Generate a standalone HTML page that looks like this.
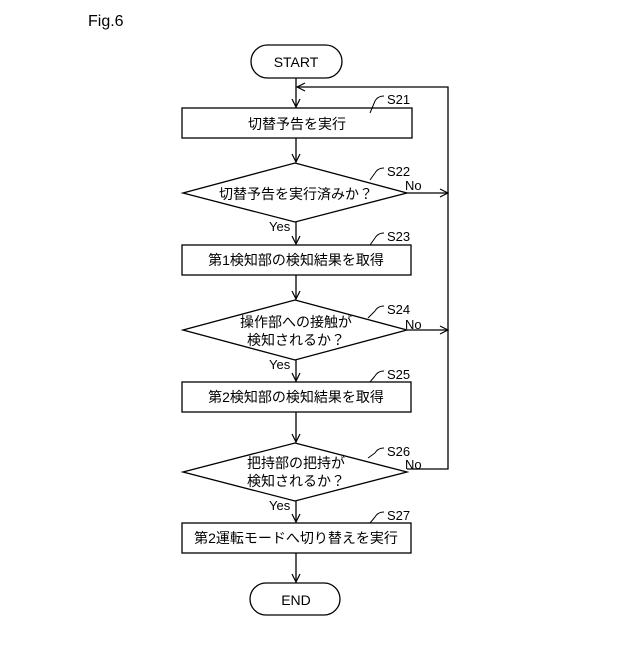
<!DOCTYPE html>
<html><head><meta charset="utf-8"><style>body{margin:0;background:#fff}</style></head><body>
<svg width="640" height="640" xmlns="http://www.w3.org/2000/svg" font-family="Liberation Sans, Noto Sans CJK JP, sans-serif" fill="none" stroke="#000" stroke-width="1.3">
<defs><marker id="a" markerWidth="10" markerHeight="10" refX="9" refY="5" orient="auto" markerUnits="userSpaceOnUse"><path d="M1,1 L9,5 L1,9" fill="none" stroke="#000" stroke-width="1.2"/></marker></defs>
<g fill="#000" stroke="none" font-size="13">
<text x="88" y="26" font-size="16">Fig.6</text>
<text x="296" y="67" text-anchor="middle" font-size="14">START</text>
<text x="296" y="605" text-anchor="middle" font-size="14">END</text>
<text x="297" y="129" text-anchor="middle" font-size="14">切替予告を実行</text>
<text x="296" y="199" text-anchor="middle" font-size="14">切替予告を実行済みか？</text>
<text x="296" y="265" text-anchor="middle" font-size="14">第1検知部の検知結果を取得</text>
<text x="296" y="327" text-anchor="middle" font-size="14">操作部への接触が</text>
<text x="296" y="345" text-anchor="middle" font-size="14">検知されるか？</text>
<text x="296" y="402" text-anchor="middle" font-size="14">第2検知部の検知結果を取得</text>
<text x="296" y="468" text-anchor="middle" font-size="14">把持部の把持が</text>
<text x="296" y="486" text-anchor="middle" font-size="14">検知されるか？</text>
<text x="296" y="543" text-anchor="middle" font-size="14">第2運転モードへ切り替えを実行</text>
<text x="387" y="104">S21</text><text x="387" y="176">S22</text><text x="387" y="241">S23</text>
<text x="387" y="314">S24</text><text x="387" y="379">S25</text><text x="387" y="456">S26</text><text x="387" y="520">S27</text>
<text x="405" y="190">No</text><text x="405" y="329">No</text><text x="405" y="469">No</text>
<text x="269" y="231">Yes</text><text x="269" y="369">Yes</text><text x="269" y="510">Yes</text>
</g>
<rect x="251" y="45" width="91" height="33" rx="16.5"/>
<rect x="250" y="583" width="90" height="32" rx="16"/>
<rect x="182" y="108" width="230" height="30"/>
<rect x="182" y="245" width="229" height="30"/>
<rect x="182" y="382" width="229" height="30"/>
<rect x="182" y="523" width="229" height="30"/>
<polygon points="295,163 407,193 295,222 183,193"/>
<polygon points="295,300 407,330 295,360 183,330"/>
<polygon points="295,443 407,472 295,501 183,472"/>
<path d="M296,78 V107" marker-end="url(#a)"/>
<path d="M296,138 V162" marker-end="url(#a)"/>
<path d="M296,222 V244" marker-end="url(#a)"/>
<path d="M296,275 V299" marker-end="url(#a)"/>
<path d="M296,360 V381" marker-end="url(#a)"/>
<path d="M296,412 V442" marker-end="url(#a)"/>
<path d="M296,501 V522" marker-end="url(#a)"/>
<path d="M296,553 V582" marker-end="url(#a)"/>
<path d="M407,193 H448" marker-end="url(#a)"/>
<path d="M407,330 H448" marker-end="url(#a)"/>
<path d="M407,469 H448 V87 H297" marker-end="url(#a)"/>
<path d="M375,101 Q378,96 384,96 M375,173 Q378,168 384,168 M375,238 Q378,233 384,233 M375,311 Q378,306 384,306 M375,376 Q378,371 384,371 M375,453 Q378,448 384,448 M375,517 Q378,512 384,512" stroke-width="1"/>
<path d="M375,101 L370,113 M375,173 L370,180 M375,238 L370,245 M375,311 L368,318 M375,376 L370,382 M375,453 L368,458 M375,517 L370,523" stroke-width="1"/>
</svg>
</body></html>
